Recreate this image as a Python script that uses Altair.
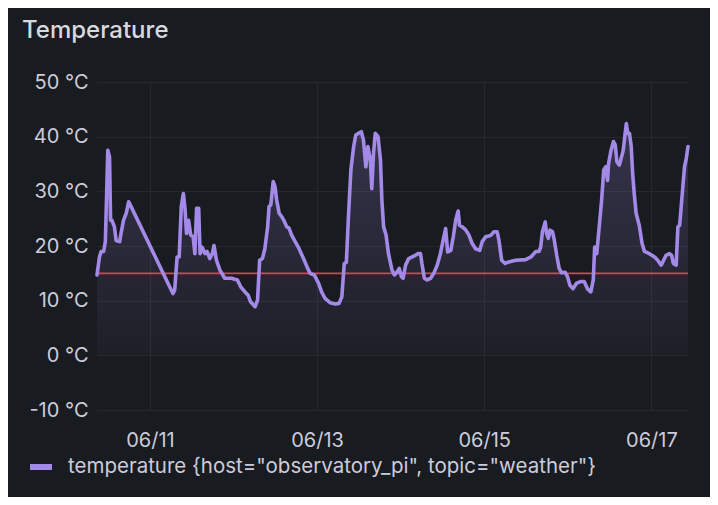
import altair as alt
import pandas as pd

# hours relative to 06/11 00:00
hours = [-15.2, -14.5, -14.0, -13.3, -12.8, -12.1, -11.6, -11.3, -10.9, -10.2, -9.7, -8.7, -8.3, -7.6, -6.8, -6.1, -5.4,
         6.6, 7.1, 7.8, 8.4, 9.0, 9.6, 10.1, 10.5, 11.1, 11.7, 12.4, 12.9, 13.4, 14.0, 14.4, 15.0, 15.8, 16.4, 17.2, 17.9, 18.4, 19.1, 20.1, 21.5, 23.4, 25.1, 26.1, 27.3, 28.2,
         28.9, 30.2, 30.9, 31.5, 32.3, 33.0, 33.8, 34.2, 34.7, 35.4, 35.9, 36.4,
         37.1, 37.8, 38.6, 39.3, 39.9, 40.7, 41.7, 42.6, 44.1, 45.3, 46.0, 47.2, 48.4, 49.3, 50.3, 51.8, 53.2, 54.3, 55.1, 55.8, 56.4,
         57.0, 57.7, 58.5, 59.1, 59.9, 60.7, 61.3, 62.0, 62.6, 63.3, 63.7, 64.2, 64.7, 65.5, 66.2, 66.6, 67.1, 67.8, 68.5, 69.5, 70.2, 70.9, 71.6, 72.2, 72.7,
         73.4, 74.3, 75.3, 76.2, 77.0, 77.7, 78.1, 78.8, 79.6, 80.6, 81.5, 82.5, 83.4, 84.4, 84.9, 85.5, 86.4, 87.1, 87.8, 88.5, 88.9,
         89.7, 90.6, 91.6, 92.5, 93.5, 94.7, 95.4, 96.4, 97.8, 98.8, 99.7, 100.2, 101.0, 102.0, 102.6, 105.0, 107.9, 109.4, 110.8, 111.7,
         112.2, 112.7, 113.5, 113.9, 114.4, 114.9, 115.6, 116.1, 116.8, 117.5, 118.2, 119.2, 119.9, 120.6, 121.5, 122.5, 123.8, 124.7, 125.7, 126.6, 127.3, 127.7, 128.3,
         129.0, 129.7, 130.3, 130.9, 131.4, 131.7, 132.4, 133.1, 133.6, 134.1, 134.8, 135.3, 135.9, 136.4, 136.8, 137.2, 137.7, 138.2, 138.6, 139.1, 139.6, 140.5, 141.3, 142.0,
         143.4, 144.9, 145.8, 146.8, 147.5, 148.2, 149.2, 149.8, 150.3, 151.1, 151.6, 152.1, 152.7, 153.5, 154.0, 154.5]

temps = [14.7, 18, 19, 19, 20.8, 37.5, 36.3, 24.7, 24.7, 23.5, 21, 20.8, 22.3, 24.7, 26, 28.1, 27.2,
         11.3, 11.9, 18, 18, 27.2, 29.6, 26.6, 22.3, 24.7, 22, 21.7, 18.6, 26.9, 26.9, 18.6, 19.8, 18.6, 19, 17.7, 18.6, 20.1, 17.4, 15.6, 14.1, 14.1, 13.8, 12.5, 11.6, 11,
         9.8, 8.9, 10.1, 17.4, 17.7, 19.5, 23.5, 27.2, 27.5, 31.8, 30.9, 28.4,
         26, 25.4, 24.5, 23.5, 23.3, 22, 20.8, 19.8, 17.7, 15.9, 15, 14.7, 13.2, 11.6, 10.4, 9.6, 9.4, 9.5, 10.7, 16.8, 17,
         25.4, 33.9, 38.2, 40.3, 40.6, 40.9, 39.4, 34.5, 38.2, 35.7, 30.5, 37, 40.6, 40, 35.7, 28.4, 23.5, 22, 18.6, 15.6, 14.7, 15.2, 15.9, 14.4, 14.1,
         16.5, 17.7, 18, 18.3, 18.6, 18.6, 16.8, 14.1, 13.8, 14.1, 15, 16.5, 18.6, 21.7, 23.2, 18.9, 19.2, 21.7, 24.7, 26.4, 23.8,
         23.5, 23, 22, 20.5, 19.5, 19.2, 20.8, 21.7, 21.9, 22.6, 22.6, 21.1, 17.4, 16.8, 17, 17.4, 17.5, 18, 19, 19,
         19.8, 22.6, 24.4, 22.3, 21.4, 22.9, 22.6, 21.1, 18.3, 15.9, 15.1, 15.2, 14.4, 12.8, 12.2, 13.2, 13.5, 13.5, 12.1, 11.6, 13.8, 19.8, 18.6,
         23.5, 28.4, 33.9, 34.5, 32, 35.1, 37.5, 39.1, 38.5, 35.4, 34.8, 36, 37.5, 40.3, 42.4, 40.6, 40.6, 38.2, 33.3, 29.3, 26, 23.8, 20.5, 19,
         18.6, 18, 17.4, 16.5, 17.4, 18.3, 18.6, 18.3, 16.8, 16.5, 23.5, 23.8, 28.4, 34.5, 36, 38.2]

series_name = 'temperature {host="observatory_pi", topic="weather"}'
y_ticks = [-10, 0, 10, 20, 30, 40, 50]
x_tick_days = [11, 13, 15, 17]
threshold = [15]

base_time = pd.Timestamp("2023-06-11 00:00")
df = pd.DataFrame({
    "time": base_time + pd.to_timedelta(hours, unit="h"),
    "temp": temps,
    "series": series_name,
})
thr = pd.DataFrame({"t": threshold})

TEXT = "#ccccdc"
GRID = "#26282e"
PURPLE = "#a38ae8"
FONT = "Inter"

x_enc = alt.X(
    "time:T",
    scale=alt.Scale(nice=False),
    axis=alt.Axis(
        title=None,
        values=[alt.DateTime(year=2023, month=6, date=d) for d in x_tick_days],
        format="%m/%d",
        labelFontSize=20,
        labelColor=TEXT,
        labelFont=FONT,
        labelPadding=20,
        ticks=False,
        domain=False,
        grid=True,
        gridColor=GRID,
    ),
)
y_enc = alt.Y(
    "temp:Q",
    scale=alt.Scale(domain=[-10, 50], nice=False, zero=False),
    axis=alt.Axis(
        title=None,
        values=y_ticks,
        labelExpr="datum.value + ' °C'",
        labelFontSize=20,
        labelColor=TEXT,
        labelFont=FONT,
        labelPadding=9,
        ticks=False,
        domain=False,
        grid=True,
        gridColor=GRID,
    ),
)

gradient = alt.Gradient(
    gradient="linear",
    stops=[
        alt.GradientStop(color="rgba(163,138,232,0.22)", offset=0),
        alt.GradientStop(color="rgba(163,138,232,0.04)", offset=1),
    ],
    x1=1, x2=1, y1=0, y2=1,
)

area = alt.Chart(df).mark_area(color=gradient).encode(
    x=x_enc, y=y_enc, y2=alt.datum(0)
)

rule = alt.Chart(thr).mark_rule(color="#d4455a", strokeWidth=1.6).encode(
    y=alt.Y("t:Q")
)

line = alt.Chart(df).mark_line(strokeWidth=3.6, strokeJoin="round", strokeCap="round").encode(
    x=x_enc,
    y=y_enc,
    color=alt.Color(
        "series:N",
        scale=alt.Scale(range=[PURPLE]),
        legend=alt.Legend(
            title=None,
            orient="none",
            legendX=-70,
            legendY=371,
            symbolType="stroke",
            symbolStrokeWidth=6,
            symbolSize=484,
            labelFontSize=20.5,
            labelColor=TEXT,
            labelFont=FONT,
            labelOffset=13,
            labelLimit=0,
        ),
    ),
)

chart = (
    alt.layer(area, rule, line)
    .properties(
        width=591,
        height=328,
        autosize=alt.AutoSizeParams(type="none"),
        padding={"left": 89, "top": 74, "right": 22, "bottom": 87},
        background="#181b1f",
        title=alt.TitleParams(
            text="Temperature",
            anchor="start",
            frame="group",
            dx=-75,
            offset=29,
            fontSize=24,
            fontWeight=500,
            font=FONT,
            color="#d8d9e0",
        ),
    )
    .configure_view(stroke=None)
)

chart.save("out.html", embed_options={"renderer": "svg", "actions": False})
